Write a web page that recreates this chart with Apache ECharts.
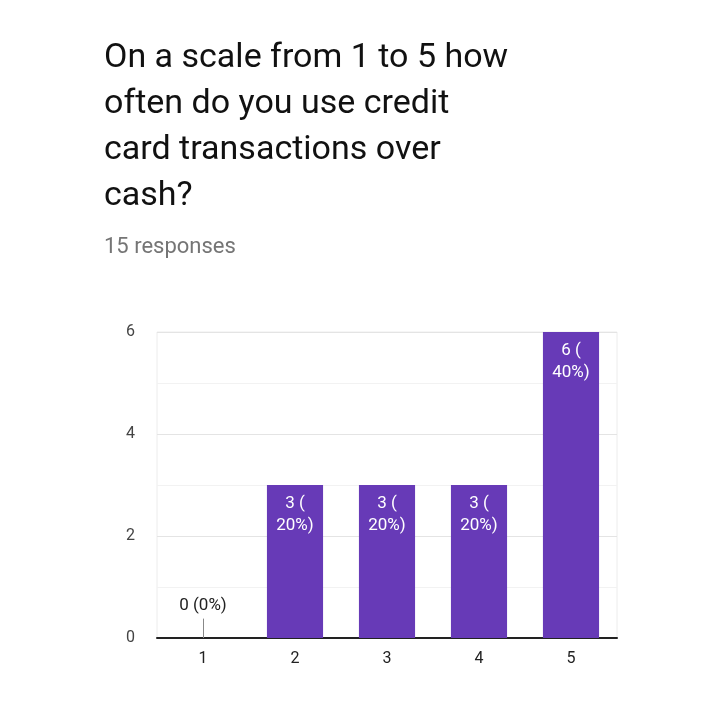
<!DOCTYPE html>
<html>
<head>
<meta charset="utf-8">
<script src="https://cdn.jsdelivr.net/npm/echarts@6/dist/echarts.min.js"></script>
<style>
  html, body { margin: 0; padding: 0; background: #fff; }
  #chart { width: 710px; height: 710px; }
</style>
</head>
<body>
<div id="chart"></div>
<script>
const titleLines = ["On a scale from 1 to 5 how", "often do you use credit", "card transactions over", "cash?"];
const subtitle = "15 responses";
const categories = ["1", "2", "3", "4", "5"];
const counts = [0, 3, 3, 3, 6];
const percents = ["0%", "20%", "20%", "20%", "40%"];
const yTicks = [0, 2, 4, 6];

const chart = echarts.init(document.getElementById("chart"));
const font = "Roboto, 'Noto Sans', Arial, sans-serif";

chart.setOption({
  backgroundColor: "#fff",
  animation: false,
  textStyle: { fontFamily: font },
  title: {
    text: titleLines.join("\n"),
    subtext: subtitle,
    left: 104,
    top: 35,
    padding: 0,
    itemGap: 17,
    textStyle: { fontSize: 34, fontWeight: "normal", color: "#111", lineHeight: 46, fontFamily: font },
    subtextStyle: { fontSize: 22, color: "#757575", fontFamily: font }
  },
  grid: {
    left: 157, right: 93, top: 332, bottom: 72,
    show: true, borderColor: "#ececec", borderWidth: 1
  },
  xAxis: {
    type: "category",
    data: categories,
    axisLine: { lineStyle: { color: "#222", width: 2 } },
    axisTick: { show: false },
    axisLabel: { color: "#222", fontSize: 16, margin: 13 }
  },
  yAxis: {
    type: "value",
    min: 0, max: 6, interval: 1,
    axisLine: { show: false },
    axisTick: { show: false },
    axisLabel: {
      color: "#444", fontSize: 16, margin: 22,
      formatter: v => (yTicks.includes(v) ? String(v) : "")
    },
    splitLine: { lineStyle: { color: ["#e4e4e4", "#f2f2f2"] } }
  },
  series: [{
    type: "bar",
    data: counts,
    barWidth: "61%",
    itemStyle: { color: "#673ab7" },
    label: {
      show: true,
      position: "insideTop",
      distance: 8,
      color: "#fff",
      fontSize: 17,
      lineHeight: 22,
      formatter: p => p.value > 0 ? p.value + " (\n" + percents[p.dataIndex] + ")" : ""
    },
    markLine: {
      silent: true,
      symbol: "none",
      lineStyle: { color: "#888", type: "solid", width: 1 },
      label: {
        show: true, position: "end", color: "#222", fontSize: 17, distance: 4,
        formatter: () => counts[0] + " (" + percents[0] + ")"
      },
      data: [[{ coord: [0, 0] }, { coord: [0, 0.38] }]]
    }
  }]
});
</script>
</body>
</html>
